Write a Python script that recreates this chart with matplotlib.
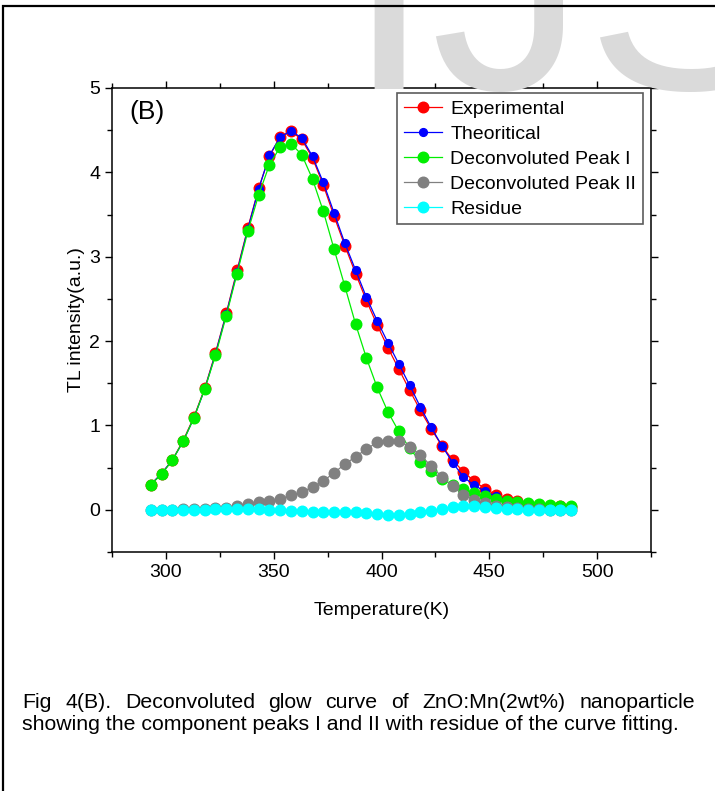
import numpy as np
import matplotlib
matplotlib.use("Agg")
import matplotlib.pyplot as plt
from matplotlib.patches import Rectangle
from matplotlib.ticker import MultipleLocator

# police principale
plt.rcParams['font.family'] = ['Liberation Sans', 'DejaVu Sans']

# Données
temperature = [293, 298, 303, 308, 313, 318, 323, 328, 333, 338,
               343, 348, 353, 358, 363, 368, 373, 378, 383, 388,
               393, 398, 403, 408, 413, 418, 423, 428, 433, 438,
               443, 448, 453, 458, 463, 468, 473, 478, 483, 488]

experimental = [0.30, 0.43, 0.59, 0.82, 1.10, 1.44, 1.86, 2.33, 2.84, 3.34,
                3.81, 4.19, 4.42, 4.49, 4.39, 4.17, 3.85, 3.48, 3.13, 2.80,
                2.48, 2.19, 1.92, 1.67, 1.42, 1.18, 0.96, 0.76, 0.59, 0.45,
                0.34, 0.25, 0.18, 0.13, 0.10, 0.07, 0.06, 0.05, 0.04, 0.03]

theoretical = [0.30, 0.43, 0.59, 0.81, 1.09, 1.43, 1.85, 2.32, 2.82, 3.33,
               3.80, 4.20, 4.42, 4.49, 4.41, 4.19, 3.88, 3.52, 3.16, 2.84,
               2.52, 2.24, 1.98, 1.73, 1.48, 1.22, 0.98, 0.76, 0.56, 0.39,
               0.29, 0.22, 0.16, 0.12, 0.09, 0.07, 0.05, 0.04, 0.03, 0.03]

peak1 = [0.30, 0.42, 0.59, 0.81, 1.09, 1.43, 1.83, 2.30, 2.80, 3.30,
         3.73, 4.09, 4.30, 4.34, 4.21, 3.92, 3.54, 3.09, 2.65, 2.20,
         1.80, 1.45, 1.16, 0.93, 0.73, 0.57, 0.46, 0.36, 0.30, 0.25,
         0.20, 0.16, 0.13, 0.11, 0.09, 0.08, 0.07, 0.06, 0.05, 0.04]

peak2 = [0.00, 0.00, 0.00, 0.01, 0.01, 0.01, 0.02, 0.02, 0.04, 0.07,
         0.09, 0.11, 0.13, 0.17, 0.21, 0.27, 0.34, 0.44, 0.54, 0.63,
         0.72, 0.80, 0.82, 0.81, 0.75, 0.65, 0.52, 0.39, 0.28, 0.18,
         0.12, 0.08, 0.05, 0.03, 0.02, 0.01, 0.01, 0.00, 0.00, 0.00]

residue = [0.00, 0.00, 0.00, 0.00, 0.00, 0.00, 0.01, 0.01, 0.01, 0.01,
           0.01, 0.00, 0.00, -0.01, -0.01, -0.02, -0.02, -0.03, -0.03, -0.03,
           -0.04, -0.05, -0.06, -0.06, -0.05, -0.03, -0.01, 0.01, 0.03, 0.04,
           0.04, 0.03, 0.02, 0.01, 0.01, 0.00, 0.00, 0.00, 0.00, 0.00]

labels = ['Experimental', 'Theoritical', 'Deconvoluted Peak I',
          'Deconvoluted Peak II', 'Residue']

caption1 = "Fig 4(B). Deconvoluted glow curve of ZnO:Mn(2wt%) nanoparticle"
caption2 = "showing the component peaks I and II with residue of the curve fitting."

W, H = 715, 791
fig = plt.figure(figsize=(W / 100, H / 100), dpi=100)

# filigrane "IJS" en gris clair
fig.text(345 / W, 1 - 89 / H, 'IJS', fontsize=223, color='#dadada',
         family='Liberation Sans', ha='left', va='baseline', zorder=0)

# cadre de la page
fig.add_artist(Rectangle((3 / W, -0.05), 1.2, 1.05 - 6 / H, transform=fig.transFigure,
                         fill=False, ec='black', lw=1.6, zorder=5))

ax = fig.add_axes([112 / W, 1 - 552 / H, 539 / W, 464 / H])
ax.set_facecolor('none')

ms = 7.6
ax.plot(temperature, experimental, '-o', color='red', lw=0.9, ms=ms, mec='red', label=labels[0])
ax.plot(temperature, theoretical, '-o', color='blue', lw=0.9, ms=5.6, mec='blue', label=labels[1])
ax.plot(temperature, peak1, '-o', color='#00ee00', lw=0.9, ms=ms, mec='#00ee00', label=labels[2])
ax.plot(temperature, peak2, '-o', color='gray', lw=0.9, ms=ms, mec='gray', label=labels[3])
ax.plot(temperature, residue, '-o', color='cyan', lw=0.9, ms=ms, mec='cyan', label=labels[4])

ax.set_xlim(275, 525)
ax.set_ylim(-0.5, 5)
ax.xaxis.set_major_locator(MultipleLocator(50))
ax.xaxis.set_minor_locator(MultipleLocator(25))
ax.yaxis.set_major_locator(MultipleLocator(1))
ax.yaxis.set_minor_locator(MultipleLocator(0.5))
ax.tick_params(which='both', direction='out', top=True, right=True,
               labeltop=False, labelright=False, width=1, labelsize=14)
ax.tick_params(which='major', length=5)
ax.tick_params(which='minor', length=3.5)
for s in ax.spines.values():
    s.set_linewidth(1.1)

ax.set_xlabel('Temperature(K)', fontsize=14, labelpad=15)
ax.set_ylabel('TL intensity(a.u.)', fontsize=14, labelpad=3)

ax.text(0.033, 0.975, '(B)', transform=ax.transAxes, fontsize=19, va='top', ha='left')

leg = ax.legend(loc='upper right', bbox_to_anchor=(0.985, 0.989), borderaxespad=0,
                fontsize=14, handlelength=2.0, handletextpad=0.4, labelspacing=0.38,
                borderpad=0.35, fancybox=False, frameon=True)
leg.get_frame().set_edgecolor('#333333')
leg.get_frame().set_linewidth(1.2)
leg.get_frame().set_facecolor('none')

# légende de la figure : première ligne justifiée
cap_font = dict(fontsize=15.3, family='Liberation Sans', color='black')
left, right = 22, 695
y1, y2 = 1 - 702 / H, 1 - 725 / H
words = caption1.split()
fig.canvas.draw()
r = fig.canvas.get_renderer()
tmp = [fig.text(0, y1, w, va='center', **cap_font) for w in words]
widths = [t.get_window_extent(r).width for t in tmp]
gap = (right - left - sum(widths)) / (len(words) - 1)
x = left
for t, w in zip(tmp, widths):
    t.set_x(x / W)
    x += w + gap
fig.text(left / W, y2, caption2, va='center', **cap_font)

fig.savefig('out.png', dpi=100)
